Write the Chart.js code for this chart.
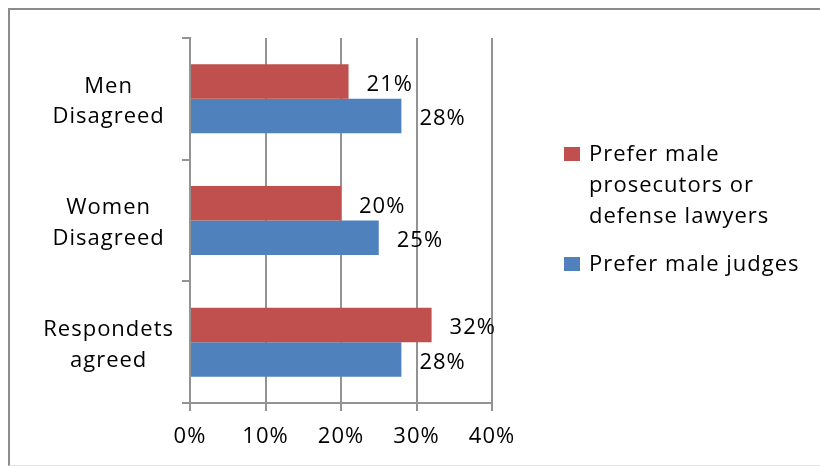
<!DOCTYPE html>
<html>
<head>
<meta charset="utf-8">
<script src="https://cdn.jsdelivr.net/npm/chart.js@4.4.1/dist/chart.umd.min.js"></script>
<style>
  body { margin: 0; background: #fff; }
  #wrap { position: relative; width: 820px; height: 466px; overflow: hidden; }
  #frame {
    position: absolute; left: 8px; top: 8px; width: 840px; height: 455px;
    border-top: 2px solid #8c8c8c; border-left: 2px solid #8c8c8c;
    border-bottom: 1px solid #e4e4e4;
  }
  #chart { position: absolute; left: 0; top: 0; }
</style>
</head>
<body>
<div id="wrap">
  <div id="frame"></div>
  <canvas id="chart" width="820" height="466"></canvas>
</div>
<script>
const categories = [['Men', 'Disagreed'], ['Women', 'Disagreed'], ['Respondets', 'agreed']];
const lawyers = [21, 20, 32];
const judges = [28, 25, 28];
const seriesNames = [['Prefer male', 'prosecutors or', 'defense lawyers'], ['Prefer male judges']];
const xTicks = [0, 10, 20, 30, 40];

const FONT = { family: "'Open Sans', sans-serif", size: 22 };
const GRID = '#939393';

// value labels to the right of every bar
const barLabels = {
  id: 'barLabels',
  afterDatasetsDraw(chart) {
    const ctx = chart.ctx;
    ctx.save();
    ctx.font = FONT.size + 'px ' + FONT.family;
    ctx.letterSpacing = '1px';
    ctx.fillStyle = '#000';
    ctx.textAlign = 'left';
    ctx.textBaseline = 'middle';
    chart.data.datasets.forEach((ds, i) => {
      chart.getDatasetMeta(i).data.forEach((bar, j) => {
        ctx.fillText(ds.data[j] + '%', bar.x + 18, bar.y + 3);
      });
    });
    ctx.restore();
  }
};

// legend on the right, with wrapped series names
const sideLegend = {
  id: 'sideLegend',
  afterDraw(chart) {
    const ctx = chart.ctx;
    const x = chart.chartArea.right + 72;
    let y = 146;
    ctx.save();
    ctx.font = FONT.size + 'px ' + FONT.family;
    ctx.letterSpacing = '1px';
    ctx.textBaseline = 'middle';
    ctx.textAlign = 'left';
    chart.data.datasets.forEach((ds, i) => {
      ctx.fillStyle = ds.backgroundColor;
      ctx.fillRect(x, y + 1, 16, 14);
      ctx.fillStyle = '#000';
      seriesNames[i].forEach((line, k) => {
        ctx.fillText(line, x + 25, y + 9 + k * 31);
      });
      y += seriesNames[i].length * 31 + 17;
    });
    ctx.restore();
  }
};

const spacing = {
  id: 'spacing',
  beforeDraw(chart) { chart.ctx.letterSpacing = '1px'; }
};

new Chart(document.getElementById('chart').getContext('2d'), {
  type: 'bar',
  data: {
    labels: categories,
    datasets: [
      { label: seriesNames[0].join(' '), data: lawyers, backgroundColor: '#C0504D' },
      { label: seriesNames[1].join(' '), data: judges, backgroundColor: '#4F81BD' }
    ]
  },
  options: {
    indexAxis: 'y',
    responsive: false,
    animation: false,
    categoryPercentage: 0.567,
    barPercentage: 1.0,
    layout: { padding: { left: 0, right: 328, top: 38, bottom: 0 } },
    plugins: {
      legend: { display: false },
      tooltip: { enabled: false }
    },
    scales: {
      x: {
        min: 0,
        max: 40,
        afterBuildTicks(scale) { scale.ticks = xTicks.map(v => ({ value: v })); },
        afterFit(scale) { scale.height = 63; },
        border: { color: GRID, width: 2 },
        grid: { color: GRID, lineWidth: 2, tickLength: 8 },
        ticks: {
          color: '#000',
          font: FONT,
          padding: 13,
          callback: v => v + '%'
        }
      },
      y: {
        afterFit(scale) {
          scale.width = 190;
          scale.paddingTop = 0;
          scale.paddingBottom = 0;
        },
        border: { color: GRID, width: 2 },
        grid: { drawOnChartArea: false, color: GRID, lineWidth: 2, tickLength: 8, offset: true },
        ticks: {
          color: '#000',
          font: { family: FONT.family, size: FONT.size, lineHeight: 1.4 },
          padding: 13,
          labelOffset: 3,
          crossAlign: 'center'
        }
      }
    }
  },
  plugins: [spacing, barLabels, sideLegend]
});
</script>
</body>
</html>
